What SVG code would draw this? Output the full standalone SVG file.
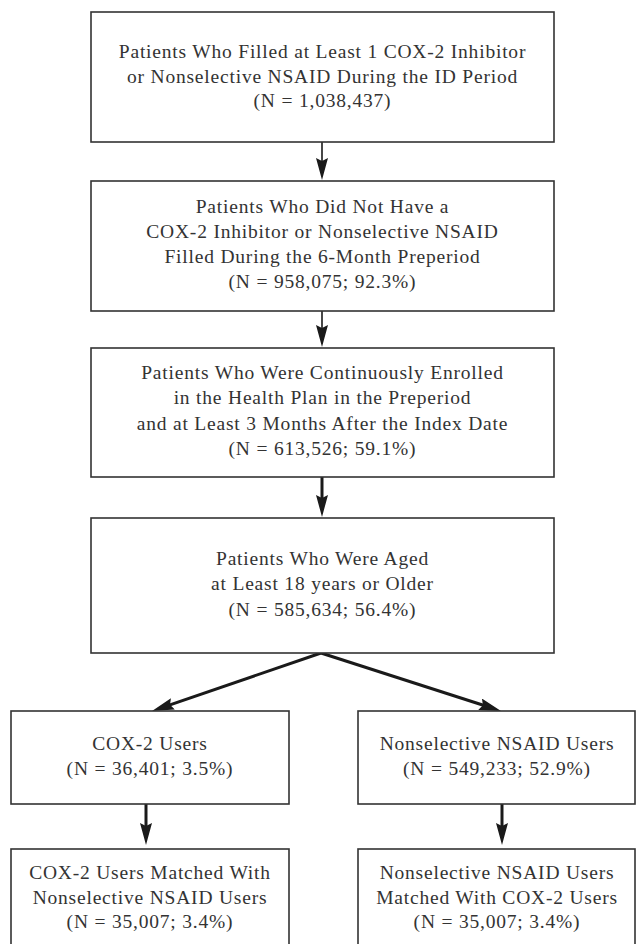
<svg xmlns="http://www.w3.org/2000/svg" width="636" height="944" viewBox="0 0 636 944">
<style>
.box{fill:#fff;stroke:#333;stroke-width:1.6}
.t{font-family:"Liberation Serif","Times New Roman",serif;font-size:19.5px;letter-spacing:0.8px;fill:#333;text-anchor:middle}
.c{stroke:#1a1a1a;fill:none}
.thin{stroke-width:1.6}
.thick{stroke-width:3}
</style>
<defs>
<marker id="ah" viewBox="0 0 22 12" refX="10" refY="6" markerWidth="22" markerHeight="12" markerUnits="userSpaceOnUse" orient="auto">
<path d="M0,0 L22,6 L0,12 L3,6 z" fill="#1a1a1a"/>
</marker>
</defs>
<g id="connectors">
<line class="c thin" x1="322" y1="142" x2="322" y2="168" marker-end="url(#ah)"/>
<line class="c thin" x1="322" y1="311" x2="322" y2="335" marker-end="url(#ah)"/>
<line class="c thick" x1="322" y1="477" x2="322" y2="505" marker-end="url(#ah)"/>
<line class="c thick" x1="321" y1="653" x2="163.4" y2="707.1" marker-end="url(#ah)"/>
<line class="c thick" x1="321" y1="653" x2="489.6" y2="707.3" marker-end="url(#ah)"/>
<line class="c thick" x1="146" y1="804" x2="146" y2="833" marker-end="url(#ah)"/>
<line class="c thick" x1="502" y1="804" x2="502" y2="833" marker-end="url(#ah)"/>
</g>
<g id="n1">
<rect class="box" x="91" y="12" width="463" height="130"/>
<text class="t" x="322.5" y="58">Patients Who Filled at Least 1 COX-2 Inhibitor</text>
<text class="t" x="322.5" y="83">or Nonselective NSAID During the ID Period</text>
<text class="t" x="322.5" y="107">(N = 1,038,437)</text>
</g>
<g id="n2">
<rect class="box" x="91" y="181" width="463" height="130"/>
<text class="t" x="322.5" y="213">Patients Who Did Not Have a</text>
<text class="t" x="322.5" y="238">COX-2 Inhibitor or Nonselective NSAID</text>
<text class="t" x="322.5" y="263">Filled During the 6-Month Preperiod</text>
<text class="t" x="322.5" y="288">(N = 958,075; 92.3%)</text>
</g>
<g id="n3">
<rect class="box" x="91" y="348" width="463" height="129"/>
<text class="t" x="322.5" y="379">Patients Who Were Continuously Enrolled</text>
<text class="t" x="322.5" y="404">in the Health Plan in the Preperiod</text>
<text class="t" x="322.5" y="430">and at Least 3 Months After the Index Date</text>
<text class="t" x="322.5" y="455">(N = 613,526; 59.1%)</text>
</g>
<g id="n4">
<rect class="box" x="91" y="518" width="463" height="135"/>
<text class="t" x="322.5" y="565">Patients Who Were Aged</text>
<text class="t" x="322.5" y="590">at Least 18 years or Older</text>
<text class="t" x="322.5" y="616">(N = 585,634; 56.4%)</text>
</g>
<g id="n5">
<rect class="box" x="11" y="711" width="278" height="93"/>
<text class="t" x="150" y="750">COX-2 Users</text>
<text class="t" x="150" y="775">(N = 36,401; 3.5%)</text>
</g>
<g id="n6">
<rect class="box" x="358" y="711" width="277" height="93"/>
<text class="t" x="497" y="750">Nonselective NSAID Users</text>
<text class="t" x="497" y="775">(N = 549,233; 52.9%)</text>
</g>
<g id="n7">
<rect class="box" x="11" y="849" width="278" height="110"/>
<text class="t" x="150" y="879">COX-2 Users Matched With</text>
<text class="t" x="150" y="904">Nonselective NSAID Users</text>
<text class="t" x="150" y="928">(N = 35,007; 3.4%)</text>
</g>
<g id="n8">
<rect class="box" x="358" y="849" width="277" height="110"/>
<text class="t" x="497" y="879">Nonselective NSAID Users</text>
<text class="t" x="497" y="904">Matched With COX-2 Users</text>
<text class="t" x="497" y="928">(N = 35,007; 3.4%)</text>
</g>
</svg>
